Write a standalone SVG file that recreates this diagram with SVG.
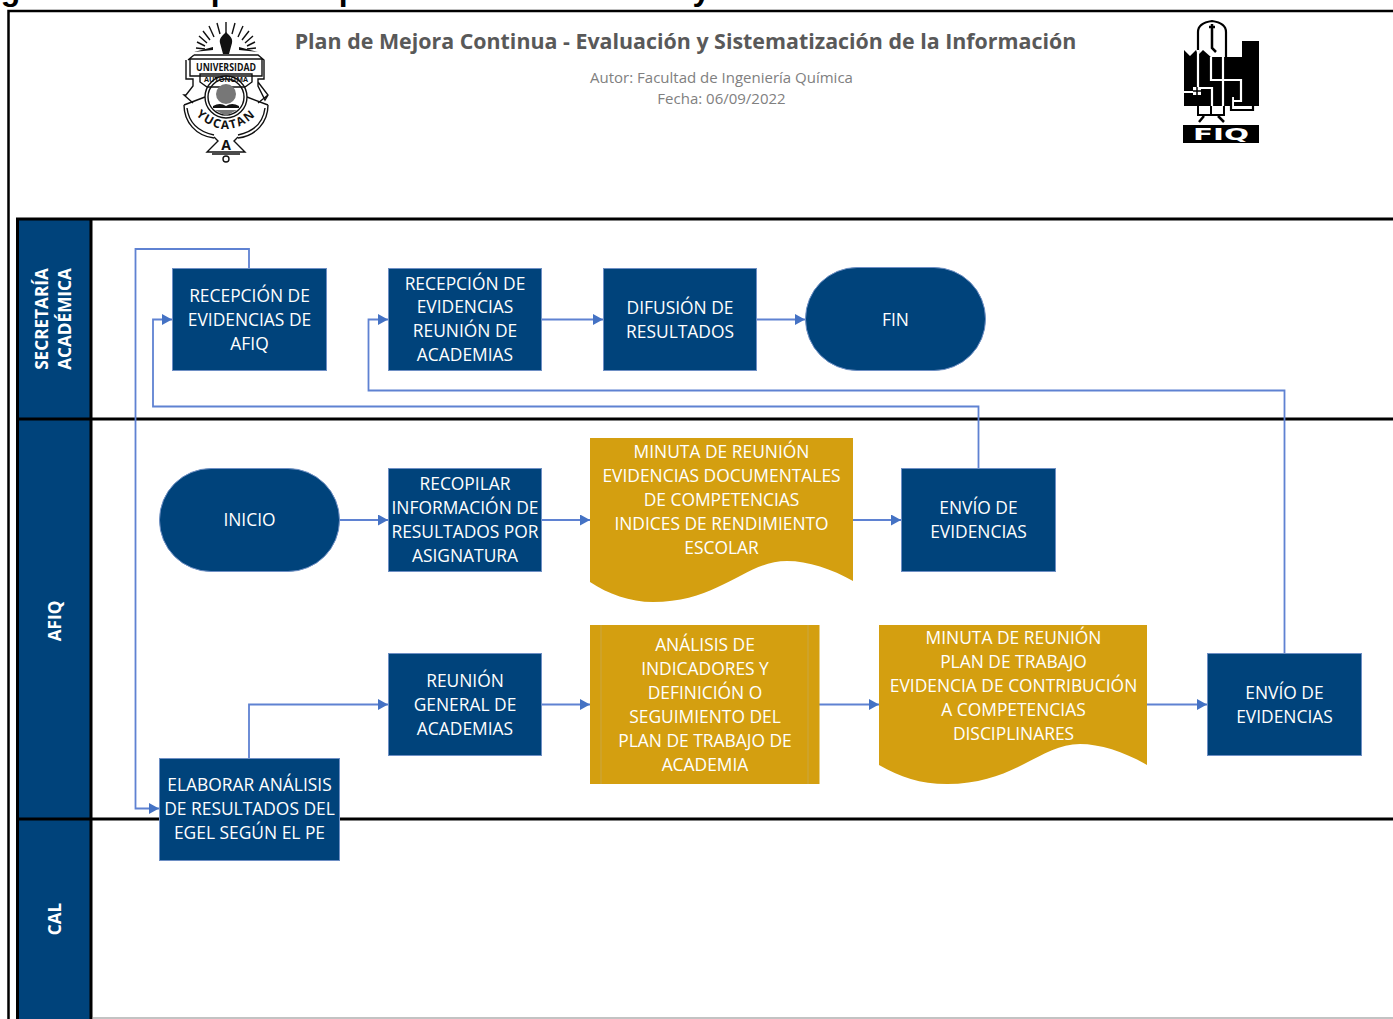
<svg xmlns="http://www.w3.org/2000/svg" width="1393" height="1019" viewBox="0 0 1393 1019">
<style>
text{font-family:"Open Sans","Noto Sans","Liberation Sans",sans-serif}
.t{fill:#fff;font-size:17.4px;text-anchor:middle}
.lane{fill:#fff;font-size:17.2px;font-weight:700;text-anchor:middle}
.blue{fill:#00437b;stroke:#6e8fc4;stroke-width:1}
.gold{fill:#d49f10}
.c{fill:none;stroke:#5f82d2;stroke-width:1.8;marker-end:url(#a)}
.hd{fill:#00437b}
.l{fill:none;stroke:#111;stroke-width:1.4}
</style>
<defs>
<marker id="a" markerUnits="userSpaceOnUse" markerWidth="11" markerHeight="12" refX="10" refY="5.500" orient="auto"><path d="M0 0L10 5.500L0 11Z" fill="#4472c4"/></marker>
<path id="arc" d="M189,108Q226,150 263,108"/>
</defs>
<rect width="1393" height="1019" fill="#fff"/>
<text x="-49" y="0" font-size="32" font-weight="700" style='font-family:"Liberation Sans",sans-serif' fill="#000">Diagrama de bloques del proceso de evaluación y Sistematización de la Información</text>
<path d="M1393 11H8.500V1019" fill="none" stroke="#000" stroke-width="2.500"/>

<g id="lanes">
<rect class="hd" x="18" y="220" width="73" height="799"/>
<path d="M1393 219H17.500V1019M1393 419H17.500M1393 819H17.500M91 219V1019" fill="none" stroke="#000" stroke-width="3"/>
<path d="M92 1018H1393" stroke="#888" stroke-width="1.200"/>
<text class="lane" transform="translate(48 319) rotate(-90)">SECRETARÍA</text>
<text class="lane" transform="translate(71 319) rotate(-90)">ACADÉMICA</text>
<text class="lane" transform="translate(61 621) rotate(-90)">AFIQ</text>
<text class="lane" transform="translate(61 919) rotate(-90)">CAL</text>
</g>

<g id="header">
<text x="685.500" y="48.500" text-anchor="middle" font-size="21.400" font-weight="700" fill="#595959">Plan de Mejora Continua - Evaluación y Sistematización de la Información</text>
<text x="721.500" y="83" text-anchor="middle" font-size="15" fill="#808080">Autor: Facultad de Ingeniería Química</text>
<text x="721.500" y="104" text-anchor="middle" font-size="15" fill="#808080">Fecha: 06/09/2022</text>
</g>

<g id="logo-uady">
<path class="l" stroke-width="2" d="M226 22V33M217 23L220 34M235 23L232 34M209 26L214 37M243 26L238 37M203 31L210 40M249 31L242 40M199 36L207 43M253 36L245 43M205 46L197 42M247 46L255 42M205 49L196 48M247 49L256 48"/>
<path d="M194 52L213 47V50ZM258 52L239 47V50Z" fill="#111"/>
<path d="M226 32C222 36 219 38 220 43C221 47 222 50 223 54H229C230 50 231 47 232 43C233 38 230 36 226 32Z" fill="#111"/>
<path class="l" d="M194 55H258L264 60V79H258V86L265 100L268 95L258 82M188 60L194 55M186 60V79H193V86L186 95L184 95L193 103M258 103L268 95M190 59H262V76H190Z"/>
<path class="l" d="M200 82V74H252V82L245 87H207Z"/>
<path class="l" d="M184 105L205 97M268 105L247 97M184 105C184 122 196 136 214 138M268 105C268 122 256 136 238 138M187 108C189 124 200 132 214 135M265 108C263 124 252 132 238 135"/>
<path class="l" d="M214 137L218 141L207 152H245L234 141L238 137M212 154H240"/>
<circle class="l" cx="226" cy="97" r="21"/><circle class="l" cx="226" cy="97" r="18"/>
<circle cx="226" cy="94" r="10" fill="#777"/>
<path d="M213 106Q220 102 226 106Q232 102 239 106V108H213Z" fill="#111"/>
<path d="M215 110H237L226 116Z" fill="#777"/>
<circle class="l" cx="226" cy="159" r="3"/>
<text x="226" y="71" text-anchor="middle" font-size="10" font-weight="700" textLength="60" lengthAdjust="spacingAndGlyphs" fill="#111">UNIVERSIDAD</text>
<text x="226" y="82" text-anchor="middle" font-size="7" font-weight="700" textLength="44" lengthAdjust="spacingAndGlyphs" fill="#111">AUTONOMA</text>
<text font-size="12" font-weight="700" fill="#111" text-anchor="middle" letter-spacing="1.500"><textPath href="#arc" startOffset="50%">YUCATAN</textPath></text>
<text x="226" y="150" text-anchor="middle" font-size="14" font-weight="700" fill="#111">A</text>
</g>

<g id="logo-fiq">
<path d="M1184 50L1190 56L1196 50L1198 55L1203 50L1212 58V57H1242V41H1259V106H1234V97H1231V106H1184Z" fill="#000"/>
<path d="M1198 55V32Q1198 23 1212 21Q1226 23 1226 32V60" fill="none" stroke="#000" stroke-width="2.200"/>
<path d="M1212 24V29M1209 27H1215M1212 29V48L1216 52" fill="none" stroke="#000" stroke-width="2.500"/>
<path d="M1198 50V91M1223 33V106M1211 57V80H1223H1241V101H1230M1184 92H1196M1196 88H1212V106" fill="none" stroke="#fff" stroke-width="2.200"/>
<rect x="1193" y="87" width="8" height="8" fill="#fff"/>
<path d="M1193 91H1201M1197 87V95" stroke="#000" stroke-width="1.500"/>
<path d="M1231 97V110H1253V97" fill="none" stroke="#000" stroke-width="2.200"/>
<path d="M1198 106V115H1224V106M1211 106V115" fill="none" stroke="#000" stroke-width="2"/>
<path d="M1199 122L1204 116M1224 122L1218 116" stroke="#000" stroke-width="2.500"/>
<rect x="1183" y="125" width="76" height="18" fill="#000"/>
<text x="1221" y="139.500" text-anchor="middle" font-size="16" font-weight="800" textLength="56" lengthAdjust="spacingAndGlyphs" fill="#fff" style='font-family:"DejaVu Sans",sans-serif'>FIQ</text>
</g>

<g id="connectors">
<path class="c" d="M249 268V249H135.500V808.500H159"/>
<path class="c" d="M978.500 468V406.500H153V319.500H172"/>
<path class="c" d="M1284.500 653V390.500H368.500V319.500H388"/>
<path class="c" d="M542 319.500H603"/>
<path class="c" d="M757 319.500H805"/>
<path class="c" d="M339 520H388"/>
<path class="c" d="M542 520H590"/>
<path class="c" d="M853 520H901"/>
<path class="c" d="M249 758V704.500H388"/>
<path class="c" d="M542 704.500H590"/>
<path class="c" d="M819 704.500H879"/>
<path class="c" d="M1147 704.500H1207"/>
</g>

<g id="n-recepcion-afiq"><rect class="blue" x="172.500" y="268.500" width="154" height="102"/>
<text class="t" x="249.500" y="301.500">RECEPCIÓN DE</text><text class="t" x="249.500" y="325.500">EVIDENCIAS DE</text><text class="t" x="249.500" y="349.500">AFIQ</text></g>
<g id="n-recepcion-reunion"><rect class="blue" x="388.500" y="268.500" width="153" height="102"/>
<text class="t" x="465" y="289.500">RECEPCIÓN DE</text><text class="t" x="465" y="313">EVIDENCIAS</text><text class="t" x="465" y="337">REUNIÓN DE</text><text class="t" x="465" y="361">ACADEMIAS</text></g>
<g id="n-difusion"><rect class="blue" x="603.500" y="268.500" width="153" height="102"/>
<text class="t" x="680" y="313.500">DIFUSIÓN DE</text><text class="t" x="680" y="337.500">RESULTADOS</text></g>
<g id="n-fin"><rect class="blue" x="805.500" y="267.500" width="180" height="103" rx="51.500"/>
<text class="t" x="895.500" y="325.500">FIN</text></g>
<g id="n-inicio"><rect class="blue" x="159.500" y="468.500" width="180" height="103" rx="51.500"/>
<text class="t" x="249.500" y="526">INICIO</text></g>
<g id="n-recopilar"><rect class="blue" x="388.500" y="468.500" width="153" height="103"/>
<text class="t" x="465" y="490">RECOPILAR</text><text class="t" x="465" y="514">INFORMACIÓN DE</text><text class="t" x="465" y="538">RESULTADOS POR</text><text class="t" x="465" y="562">ASIGNATURA</text></g>
<g id="n-minuta-1"><path class="gold" d="M590 438H853V581C832 569 808 561 787 561C745 561 720 602 653 602C630 602 608 594 590 582Z"/>
<text class="t" x="721.500" y="457.500">MINUTA DE REUNIÓN</text><text class="t" x="721.500" y="481.500">EVIDENCIAS DOCUMENTALES</text><text class="t" x="721.500" y="505.500">DE COMPETENCIAS</text><text class="t" x="721.500" y="529.500">INDICES DE RENDIMIENTO</text><text class="t" x="721.500" y="553.500">ESCOLAR</text></g>
<g id="n-envio-1"><rect class="blue" x="901.500" y="468.500" width="154" height="103"/>
<text class="t" x="978.500" y="514">ENVÍO DE</text><text class="t" x="978.500" y="538">EVIDENCIAS</text></g>
<g id="n-reunion"><rect class="blue" x="388.500" y="653.500" width="153" height="102"/>
<text class="t" x="465" y="686.500">REUNIÓN</text><text class="t" x="465" y="710.500">GENERAL DE</text><text class="t" x="465" y="734.500">ACADEMIAS</text></g>
<g id="n-analisis"><rect class="gold" x="590" y="625" width="229.500" height="159"/>
<path d="M601 625V784M808 625V784" stroke="#c9a642" stroke-width="1"/>
<text class="t" x="705" y="650.500">ANÁLISIS DE</text><text class="t" x="705" y="674.500">INDICADORES Y</text><text class="t" x="705" y="698.500">DEFINICIÓN O</text><text class="t" x="705" y="722.500">SEGUIMIENTO DEL</text><text class="t" x="705" y="746.500">PLAN DE TRABAJO DE</text><text class="t" x="705" y="770.500">ACADEMIA</text></g>
<g id="n-minuta-2"><path class="gold" d="M879 625H1147V765C1125 752 1100 744 1080 744C1040 744 1015 784 947 784C920 784 900 777 879 765Z"/>
<text class="t" x="1013.500" y="643.500">MINUTA DE REUNIÓN</text><text class="t" x="1013.500" y="667.500">PLAN DE TRABAJO</text><text class="t" x="1013.500" y="691.500">EVIDENCIA DE CONTRIBUCIÓN</text><text class="t" x="1013.500" y="715.500">A COMPETENCIAS</text><text class="t" x="1013.500" y="739.500">DISCIPLINARES</text></g>
<g id="n-envio-2"><rect class="blue" x="1207.500" y="653.500" width="154" height="102"/>
<text class="t" x="1284.500" y="699">ENVÍO DE</text><text class="t" x="1284.500" y="723">EVIDENCIAS</text></g>
<g id="n-elaborar"><rect class="blue" x="159.500" y="758.500" width="180" height="102"/>
<text class="t" x="249.500" y="791">ELABORAR ANÁLISIS</text><text class="t" x="249.500" y="815">DE RESULTADOS DEL</text><text class="t" x="249.500" y="839">EGEL SEGÚN EL PE</text></g>
</svg>
